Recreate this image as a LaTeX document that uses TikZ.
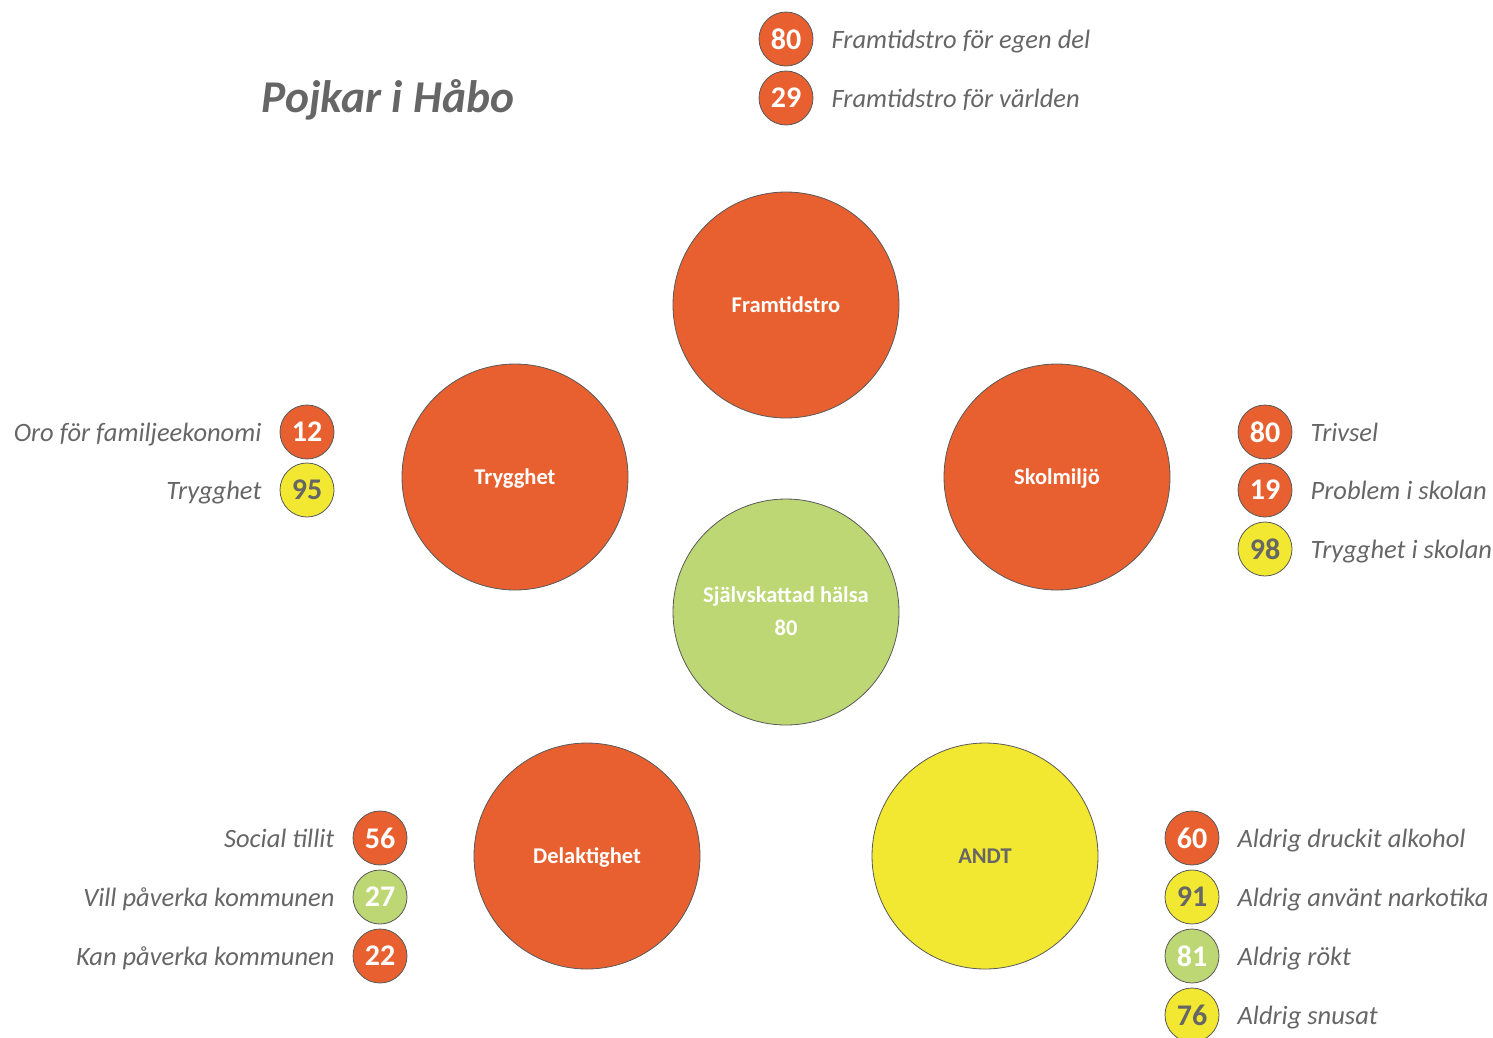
\documentclass[tikz,border=0pt]{standalone}
\usepackage{fontspec}
\setmainfont{Carlito}
\usepackage{tikz}
\usetikzlibrary{positioning}
\definecolor{habored}{HTML}{E8602F}
\definecolor{habogreen}{HTML}{BCD774}
\definecolor{haboyellow}{HTML}{F2E831}
\definecolor{habogray}{HTML}{666666}
\definecolor{haboedge}{HTML}{595959}
\tikzset{
  bigball/.style={circle, draw=haboedge, line width=0.8pt, minimum size=226pt, inner sep=0pt,
    text height=16pt, text depth=2pt,
    font=\fontsize{22.5}{33}\selectfont\bfseries, text=white, align=center},
  smallball/.style={circle, draw=haboedge, line width=0.8pt, minimum size=54pt, inner sep=0pt,
    font=\fontsize{30}{32}\selectfont\bfseries, text=white},
  red/.style={fill=habored},
  green/.style={fill=habogreen},
  yellow/.style={fill=haboyellow, text=habogray},
  lbl/.style={inner sep=0pt, text height=18pt, text depth=6pt, yshift=-3pt,
    text=habogray, font=\fontsize{26.5}{30}\selectfont\itshape}
}

\begin{document}
\begin{tikzpicture}[x=1pt,y=-1pt]
\useasboundingbox (0,0) rectangle (1493,1037);
\node[text=habogray, font=\fontsize{45.5}{50}\selectfont\bfseries\itshape] (title) at (388,100) {Pojkar i Håbo};

\node[bigball, red] (framtid) at (786,305) {Framtidstro};
\node[bigball, red] (trygg) at (515,477) {Trygghet};
\node[bigball, red] (skola) at (1057,477) {Skolmiljö};
\node[bigball, green, text height=49pt] (halsa) at (786,612) {Självskattad hälsa\\80};
\node[bigball, red] (delakt) at (587,856) {Delaktighet};
\node[bigball, yellow] (andt) at (985,856) {ANDT};

% framtidstro
\node[smallball, red] (f1) at (786,39) {80};
\node[smallball, red] (f2) at (786,98) {29};
\node[lbl, right=18pt of f1] (f1l) {Framtidstro för egen del};
\node[lbl, right=18pt of f2] (f2l) {Framtidstro för världen};

% trygghet
\node[smallball, red] (t1) at (307,432) {12};
\node[smallball, yellow] (t2) at (307,490) {95};
\node[lbl, left=18pt of t1] (t1l) {Oro för familjeekonomi};
\node[lbl, left=18pt of t2] (t2l) {Trygghet};

% skolmiljo
\node[smallball, red] (s1) at (1265,432) {80};
\node[smallball, red] (s2) at (1265,490) {19};
\node[smallball, yellow] (s3) at (1265,549) {98};
\node[lbl, right=18pt of s1] (s1l) {Trivsel};
\node[lbl, right=18pt of s2] (s2l) {Problem i skolan};
\node[lbl, right=18pt of s3] (s3l) {Trygghet i skolan};

% delaktighet
\node[smallball, red] (d1) at (380,838) {56};
\node[smallball, green] (d2) at (380,897) {27};
\node[smallball, red] (d3) at (380,956) {22};
\node[lbl, left=18pt of d1] (d1l) {Social tillit};
\node[lbl, left=18pt of d2] (d2l) {Vill påverka kommunen};
\node[lbl, left=18pt of d3] (d3l) {Kan påverka kommunen};

% andt
\node[smallball, red] (a1) at (1192,838) {60};
\node[smallball, yellow] (a2) at (1192,897) {91};
\node[smallball, green] (a3) at (1192,956) {81};
\node[smallball, yellow] (a4) at (1192,1015) {76};
\node[lbl, right=18pt of a1] (a1l) {Aldrig druckit alkohol};
\node[lbl, right=18pt of a2] (a2l) {Aldrig använt narkotika};
\node[lbl, right=18pt of a3] (a3l) {Aldrig rökt};
\node[lbl, right=18pt of a4] (a4l) {Aldrig snusat};
\end{tikzpicture}
\end{document}
